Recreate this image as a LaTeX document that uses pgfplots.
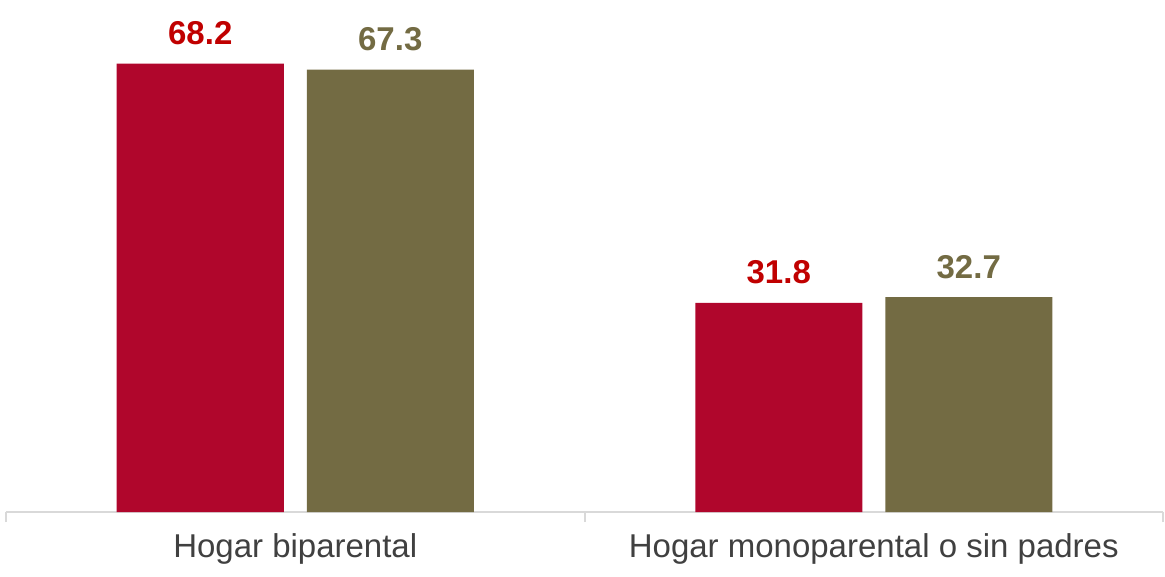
\documentclass[border=0pt]{standalone}
\usepackage{pgfplots}
\pgfplotsset{compat=1.18}
\usepackage{fontspec}
\setmainfont{Liberation Sans}

\definecolor{barred}{HTML}{B0062C}
\definecolor{barolive}{HTML}{736B43}
\definecolor{labred}{HTML}{C00000}
\definecolor{axisgray}{HTML}{D9D9D9}
\definecolor{textgray}{HTML}{404040}

\begin{document}
\begin{tikzpicture}
\begin{axis}[
    scale only axis,
    width=578.5pt, height=256pt,
    at={(0,0)}, anchor=south west,
    ybar=11.5pt,
    bar width=83.5pt,
    xmin=-0.5, xmax=1.5,
    ymin=0, ymax=77.9,
    hide y axis,
    axis x line*=bottom,
    x axis line style={draw=axisgray, line width=1pt, -},
    xtick={0,1},
    xticklabels={Hogar biparental, Hogar monoparental o sin padres},
    major x tick style={draw=none},
    extra x ticks={-0.5,0.5,1.5},
    extra x tick labels={},
    extra x tick style={tick align=outside, major tick length=5pt,
        major x tick style={draw=axisgray, line width=1pt}},
    x tick label style={font=\fontsize{16.5}{18}\selectfont, text=textgray, yshift=-3pt},
    nodes near coords,
    nodes near coords style={font=\fontsize{16.5}{18}\selectfont\bfseries, anchor=base, yshift=9.5pt},
    /pgf/number format/.cd, fixed, fixed zerofill, precision=1, assume math mode=true,
    /pgfplots/.cd,
    clip=false,
]
\addplot[fill=barred, draw=none, nodes near coords style={text=labred}]
    coordinates {(0,68.2) (1,31.8)};
\addplot[fill=barolive, draw=none, nodes near coords style={text=barolive}]
    coordinates {(0,67.3) (1,32.7)};
\end{axis}
\pgfresetboundingbox
\path (-3pt,256pt) rectangle (579.5pt,-32.5pt);
\end{tikzpicture}
\end{document}
